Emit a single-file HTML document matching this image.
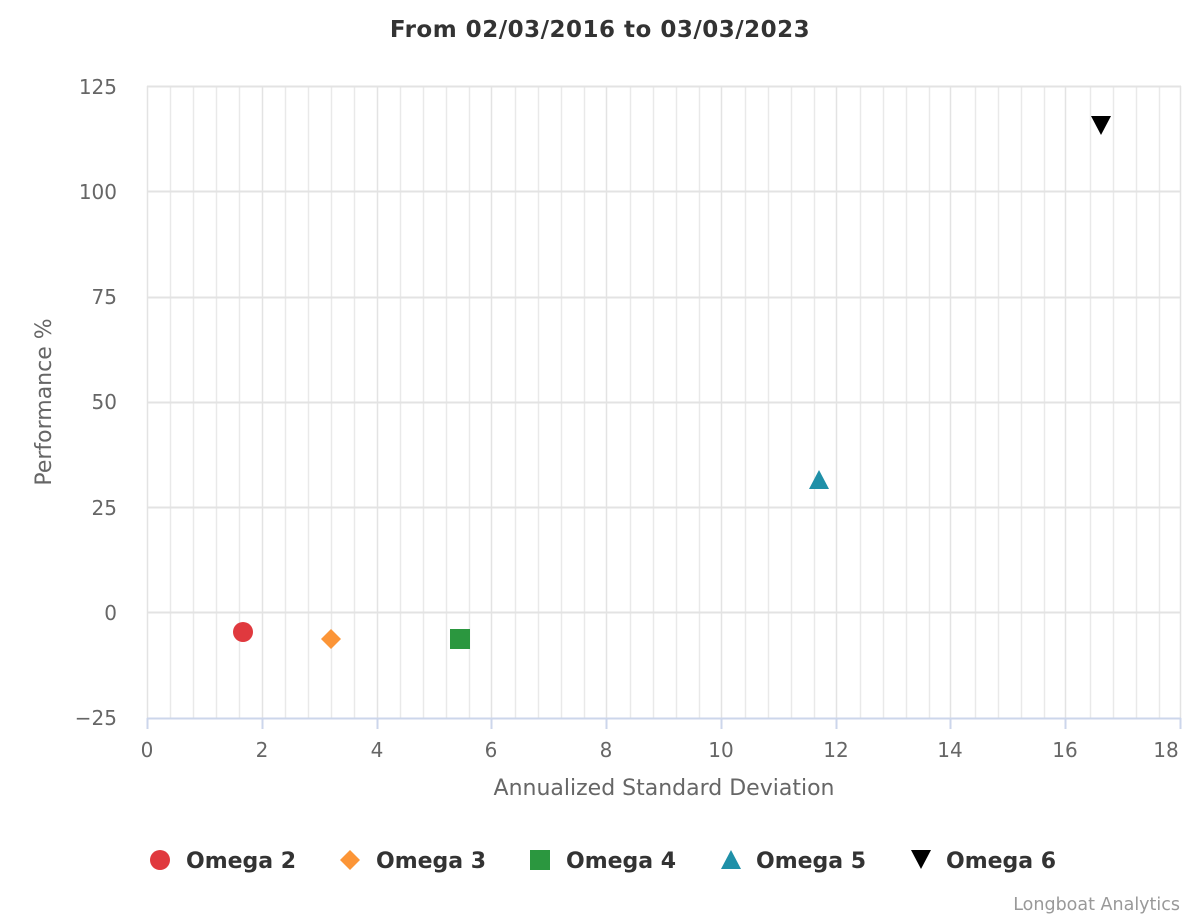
<!DOCTYPE html>
<html><head><style>body{margin:0;background:#fff}svg{display:block}</style></head><body>
<svg width="1200" height="920" xmlns="http://www.w3.org/2000/svg" font-family="DejaVu Sans, sans-serif">
<rect width="1200" height="920" fill="#fff"/>
<text x="600" y="37" text-anchor="middle" font-size="23" font-weight="bold" fill="#333" letter-spacing="0.5">From 02/03/2016 to 03/03/2023</text>
<g stroke="#e9e9e9" stroke-width="1.5">
<path d="M170.5 86V718M193.5 86V718M216.5 86V718M239.5 86V718M285.5 86V718M308.5 86V718M331.5 86V718M354.5 86V718M400.5 86V718M423.5 86V718M446.5 86V718M469.5 86V718M515.5 86V718M538.5 86V718M561.5 86V718M584.5 86V718M630.5 86V718M653.5 86V718M676.5 86V718M699.5 86V718M745.5 86V718M768.5 86V718M791.5 86V718M814.5 86V718M860.5 86V718M883.5 86V718M906.5 86V718M929.5 86V718M975.5 86V718M998.5 86V718M1021.5 86V718M1044.5 86V718M1090.5 86V718M1113.5 86V718M1136.5 86V718M1159.5 86V718"/>
<path d="M147.5 86V718M262.5 86V718M377.5 86V718M491.5 86V718M606.5 86V718M721.5 86V718M836.5 86V718M950.5 86V718M1065.5 86V718M1180.5 86V718" stroke="#e3e3e3"/>
<path d="M147 86.5H1181M147 191.5H1181M147 297.5H1181M147 402.5H1181M147 507.5H1181M147 612.5H1181" stroke="#e3e3e3" stroke-width="2"/>
</g>
<path d="M147 718.5H1181M147.5 718V729M262.5 718V729M377.5 718V729M491.5 718V729M606.5 718V729M721.5 718V729M836.5 718V729M950.5 718V729M1065.5 718V729M1180.5 718V729" stroke="#ccd6eb" stroke-width="2"/>
<g font-size="20" fill="#666" text-anchor="middle">
<text x="147" y="757">0</text><text x="262" y="757">2</text><text x="377" y="757">4</text><text x="491" y="757">6</text><text x="606" y="757">8</text><text x="721" y="757">10</text><text x="836" y="757">12</text><text x="950" y="757">14</text><text x="1065" y="757">16</text><text x="1166" y="757">18</text>
</g>
<g font-size="20" fill="#666" text-anchor="end">
<text x="117" y="94">125</text><text x="117" y="199">100</text><text x="117" y="304">75</text><text x="117" y="409">50</text><text x="117" y="515">25</text><text x="117" y="620">0</text><text x="117" y="725">−25</text>
</g>
<text x="664" y="795" text-anchor="middle" font-size="22" fill="#666">Annualized Standard Deviation</text>
<text transform="translate(51 402) rotate(-90)" text-anchor="middle" font-size="22" fill="#666">Performance %</text>
<circle cx="243" cy="632" r="10" fill="#e0393e"/>
<path d="M331 629L341 639L331 649L321 639Z" fill="#fc9537"/>
<rect x="450" y="629" width="20" height="20" fill="#2b973f"/>
<path d="M819 470L829 489L809 489Z" fill="#1f90a8"/>
<path d="M1091 116L1111 116L1101 135Z" fill="#000"/>
<g font-size="22" font-weight="bold" fill="#333">
<circle cx="160" cy="860" r="10" fill="#e0393e"/><text x="186" y="868">Omega 2</text>
<path d="M350 850L360 860L350 870L340 860Z" fill="#fc9537"/><text x="376" y="868">Omega 3</text>
<rect x="530" y="850" width="20" height="20" fill="#2b973f"/><text x="566" y="868">Omega 4</text>
<path d="M731 850L741 869L721 869Z" fill="#1f90a8"/><text x="756" y="868">Omega 5</text>
<path d="M911 850L931 850L921 869Z" fill="#000"/><text x="946" y="868">Omega 6</text>
</g>
<text x="1180" y="910" text-anchor="end" font-size="17.5" fill="#999">Longboat Analytics</text>
</svg>
</body></html>
